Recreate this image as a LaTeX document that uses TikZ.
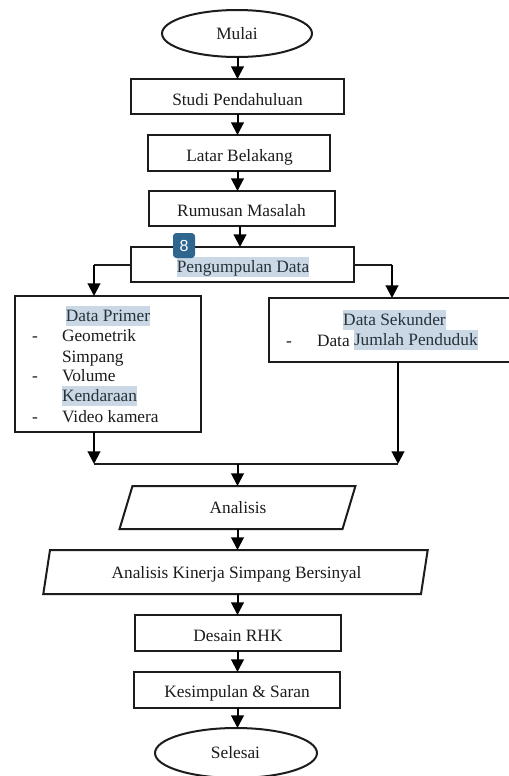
\documentclass[tikz,border=0pt]{standalone}
\usepackage{fontspec}
\setmainfont{Liberation Serif}
\newfontfamily\badgefont{Liberation Sans}
\usetikzlibrary{arrows.meta,shapes.geometric}
\definecolor{hl}{HTML}{C9D8E4}
\definecolor{hltext}{HTML}{26323C}
\definecolor{badge}{HTML}{2F6690}
\definecolor{ink}{HTML}{1C1C1C}
\tikzset{
 x=0.75pt,y=0.75pt,
 every node/.style={font=\fontsize{13}{15}\selectfont,text=ink,inner sep=0pt,outer sep=0pt},
 bx/.style={draw=ink,line width=1.5pt,fill=white,anchor=north west},
 term/.style={draw=ink,line width=1.5pt,fill=white,ellipse},
 para/.style={draw=ink,line width=1.5pt,fill=white,trapezium,trapezium stretches=true,trapezium left angle=74,trapezium right angle=106},
 arr/.style={draw=black,line width=1.5pt,-{Triangle[length=9.5pt,width=9.5pt]}},
 ln/.style={draw=ink,line width=1.5pt},
 hlbox/.style={fill=hl,text=hltext,text depth=3.5pt,text height=11.5pt},
 lab/.style={anchor=base},
 ltx/.style={anchor=base west}
}
\newcommand{\bxn}[5]{\node[bx,minimum width=#4*0.75pt,minimum height=#5*0.75pt] (#1) at (#2,#3) {};}
\begin{document}
\begin{tikzpicture}
\useasboundingbox (0,0) rectangle (509,-776);
\fill[white] (0,0) rectangle (509,-776);
\coordinate (spine) at (237.5,0);
\node[term,minimum width=150*0.75pt,minimum height=47*0.75pt] (mulai) at (237,-33.5) {};
\node[lab] (mulait) at (237,-39) {Mulai};
\bxn{studi}{131}{-79}{213}{35}
\node[lab] (studit) at (237.5,-105) {Studi Pendahuluan};
\bxn{latar}{148}{-135}{182}{36}
\node[lab] (latart) at (239.5,-161) {Latar Belakang};
\bxn{rumusan}{149}{-191}{186}{35}
\node[lab] (rumusant) at (241.5,-216) {Rumusan Masalah};
\bxn{kumpul}{131}{-247}{223}{35}
\node[hlbox] (kumpult) at (243,-267) {Pengumpulan Data};
\node[rounded corners=2.5pt,fill=badge,minimum width=22*0.75pt,minimum height=25*0.75pt,text=white,font=\badgefont\fontsize{12}{14}\selectfont] (badge) at (184,-245.5) {8};

\bxn{primer}{15}{-296}{186}{136}
\node[hlbox] (primert) at (108,-316) {Data Primer};
\node[ltx] (d1) at (32,-341) {-};
\node[ltx] (g1) at (62,-341) {Geometrik};
\node[ltx] (g2) at (62,-362) {Simpang};
\node[ltx] (d2) at (32,-381) {-};
\node[ltx] (v1) at (62,-381) {Volume};
\node[hlbox,anchor=west] (v2) at (62,-396) {Kendaraan};
\node[ltx] (d3) at (32,-422) {-};
\node[ltx] (c1) at (62,-422) {Video kamera};

\bxn{sekunder}{269}{-298}{243}{64}
\node[hlbox] (sekundert) at (394.5,-320) {Data Sekunder};
\node[ltx] (d4) at (286,-346) {-};
\node[ltx] (s1) at (317,-346) {Data};
\node[hlbox,anchor=west] (s2) at (354,-340) {Jumlah Penduduk};

\node[para,minimum width=237*0.75pt,minimum height=43*0.75pt] (analisis) at (237.5,-507.5) {\phantom{Analisis}};
\node[lab] (analisist) at (238,-513) {Analisis};
\node[para,minimum width=385*0.75pt,minimum height=44*0.75pt] (kinerja) at (235.5,-572) {\phantom{Analisis Kinerja Simpang Bersinyal}};
\node[lab] (kinerjat) at (236.5,-578) {Analisis Kinerja Simpang Bersinyal};
\bxn{desain}{135}{-615}{206}{36}
\node[lab] (desaint) at (238,-641) {Desain RHK};
\bxn{simpul}{134}{-672}{206}{36}
\node[lab] (simpult) at (237,-697) {Kesimpulan \& Saran};
\node[term,minimum width=162*0.75pt,minimum height=50*0.75pt] (selesai) at (236,-753) {};
\node[lab] (selesait) at (235.5,-758) {Selesai};

\coordinate (kl) at (94,-265);
\coordinate (kr) at (392,-265);
\coordinate (jl) at (94,-464);
\coordinate (jr) at (398,-464);
\coordinate (sk) at (398,-362);
\draw[arr] (spine |- mulai.south) -- (spine |- studi.north);
\draw[arr] (spine |- studi.south) -- (spine |- latar.north);
\draw[arr] (spine |- latar.south) -- (spine |- rumusan.north);
\coordinate (spineb) at (240,0);
\draw[arr] (spineb |- rumusan.south) -- (spineb |- kumpul.north);
\draw[ln] (kumpul.west |- kl) -- (kl);
\draw[arr] (kl) -- (kl |- primer.north);
\draw[ln] (kumpul.east |- kr) -- (kr);
\draw[arr] (kr) -- (kr |- sekunder.north);
\draw[arr] (jl |- primer.south) -- (jl);
\draw[arr] (sk) -- (jr);
\draw[ln] (jl) -- (jr);
\draw[arr] (spine |- jl) -- (spine |- analisis.north);
\draw[arr] (spine |- analisis.south) -- (spine |- kinerja.north);
\draw[arr] (spine |- kinerja.south) -- (spine |- desain.north);
\draw[arr] (spine |- desain.south) -- (spine |- simpul.north);
\draw[arr] (spine |- simpul.south) -- (spine |- selesai.north);
\end{tikzpicture}
\end{document}
